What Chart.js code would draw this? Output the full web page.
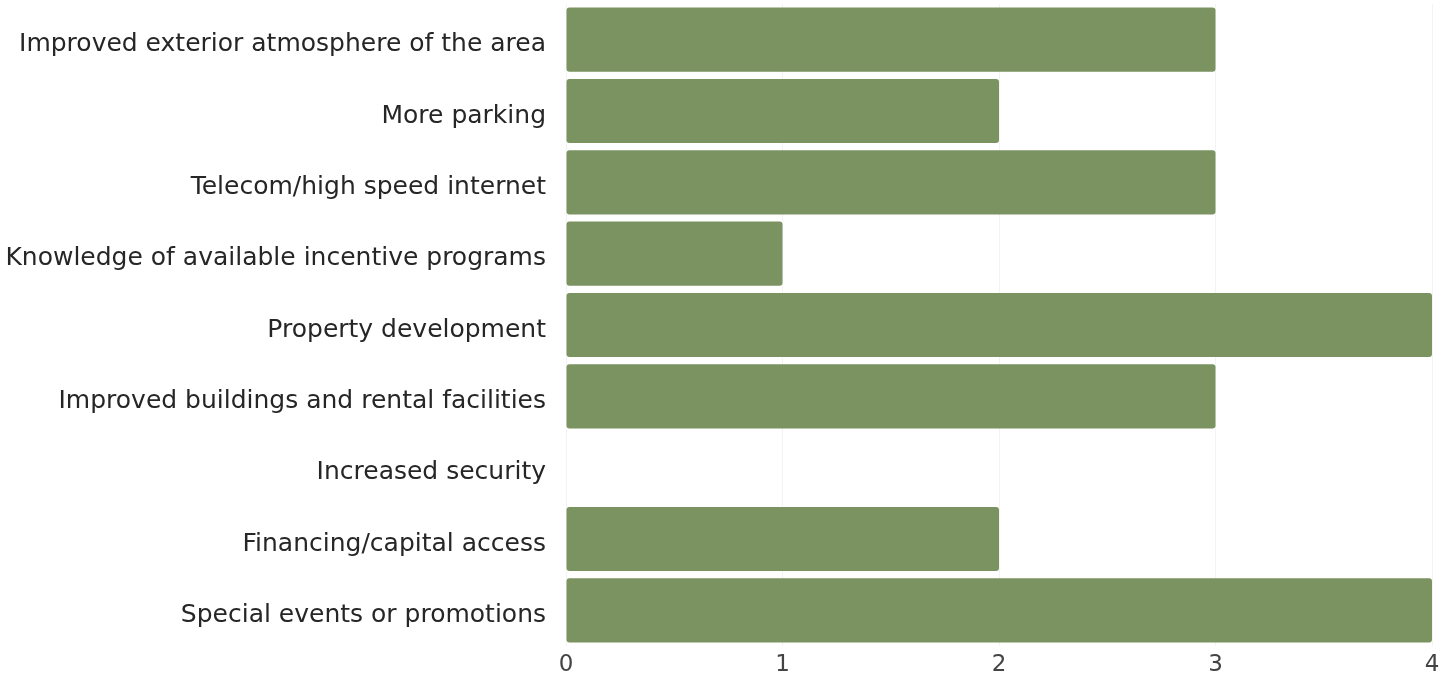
<!DOCTYPE html>
<html>
<head>
<meta charset="utf-8">
<script src="https://cdn.jsdelivr.net/npm/chart.js@4/dist/chart.umd.min.js"></script>
<style>
  html, body { margin: 0; padding: 0; background: #ffffff; }
  #wrap { width: 1454px; height: 683px; }
</style>
</head>
<body>
<div id="wrap"><canvas id="chart" width="1454" height="683"></canvas></div>
<script>
// Categories, top to bottom
const categories = [
  "Improved exterior atmosphere of the area",
  "More parking",
  "Telecom/high speed internet",
  "Knowledge of available incentive programs",
  "Property development",
  "Improved buildings and rental facilities",
  "Increased security",
  "Financing/capital access",
  "Special events or promotions"
];
// Number of responses per category
const responses = [3, 2, 3, 1, 4, 3, 0, 2, 4];
// Value axis ticks
const xTicks = [0, 1, 2, 3, 4];

const barColor = "#7a9361";
const categoryFont = { family: "'DejaVu Sans', sans-serif", size: 25 };
const valueFont = { family: "'DejaVu Sans', sans-serif", size: 23 };

new Chart(document.getElementById("chart"), {
  type: "bar",
  data: {
    labels: categories,
    datasets: [{
      data: responses,
      backgroundColor: barColor,
      borderWidth: 0,
      borderRadius: 3,
      borderSkipped: false,
      barPercentage: 0.9,
      categoryPercentage: 1.0
    }]
  },
  options: {
    indexAxis: "y",
    responsive: false,
    animation: false,
    layout: { padding: { top: 4, right: 22, bottom: 7, left: 0 } },
    plugins: { legend: { display: false }, tooltip: { enabled: false } },
    scales: {
      x: {
        min: 0,
        max: 4,
        afterBuildTicks: (scale) => { scale.ticks = xTicks.map(v => ({ value: v })); },
        afterFit: (scale) => {
          scale.height = 30;
          scale.paddingLeft = 0;
        },
        grid: { color: "#f3f3f3", drawTicks: false },
        border: { display: false },
        ticks: { color: "#444444", font: valueFont, padding: 5 }
      },
      y: {
        afterFit: (scale) => {
          scale.width = 566;
          scale.paddingTop = 0;
          scale.paddingBottom = 0;
        },
        grid: { display: false, drawTicks: false },
        border: { display: false },
        ticks: { color: "#262626", font: categoryFont, padding: 20, labelOffset: 5 }
      }
    }
  }
});
</script>
</body>
</html>
